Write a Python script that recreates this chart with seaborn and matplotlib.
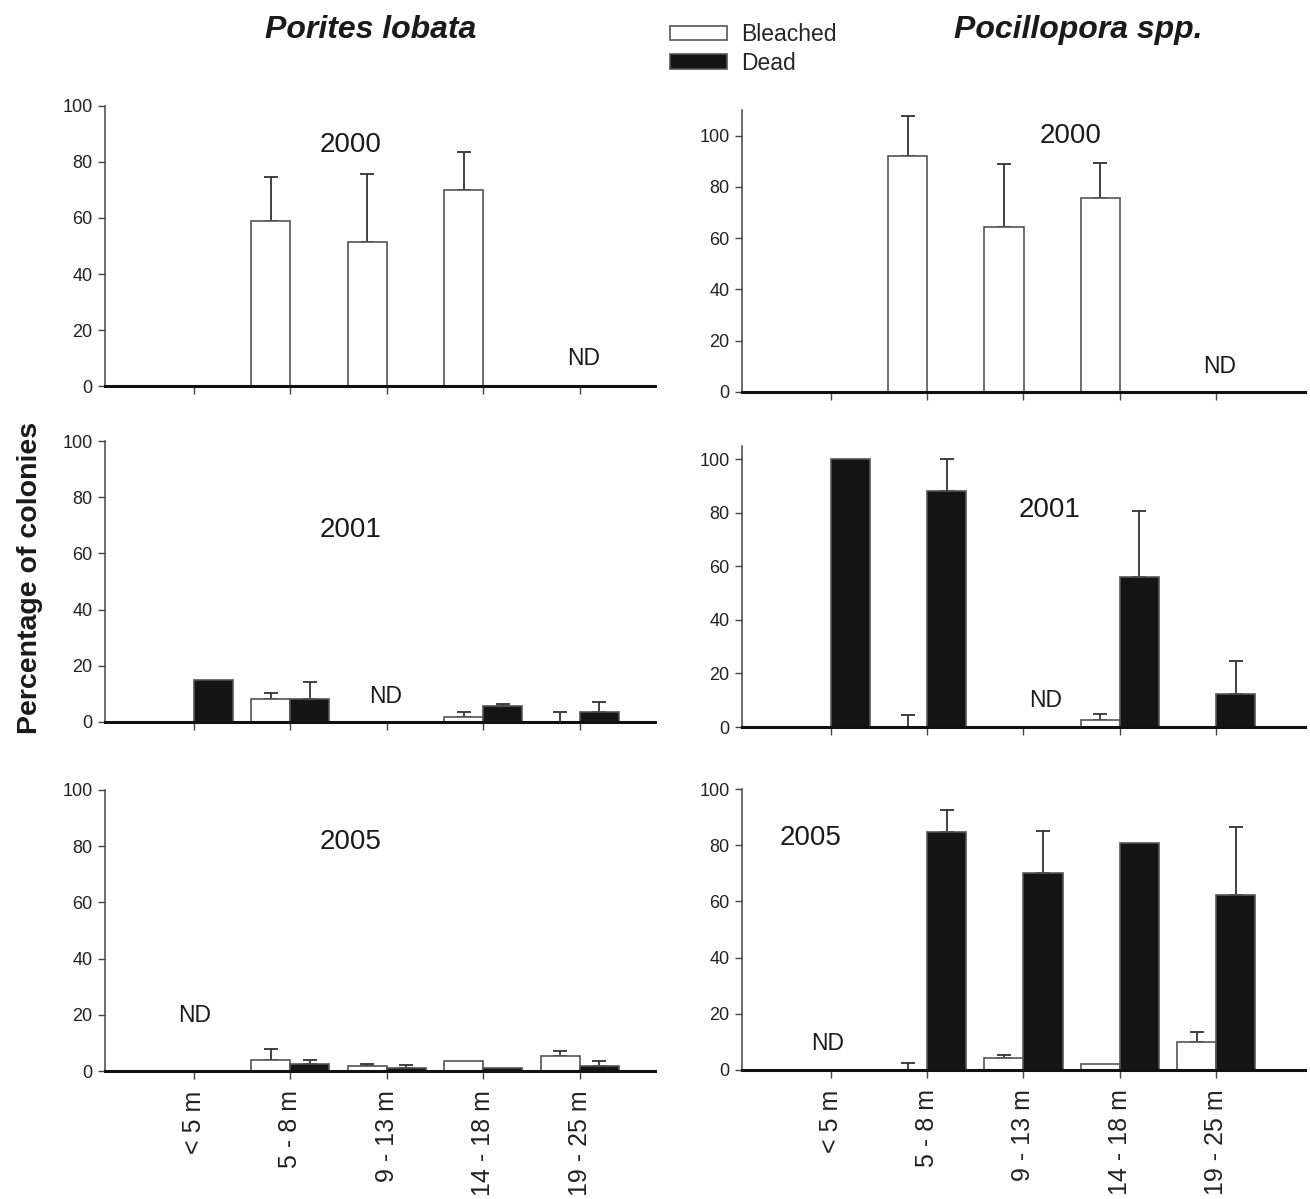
import numpy as np
import pandas as pd
import matplotlib
matplotlib.use("Agg")
import matplotlib.pyplot as plt
import seaborn as sns

# ---------------- data ----------------
depths = ["< 5 m", "5 - 8 m", "9 - 13 m", "14 - 18 m", "19 - 25 m"]
statuses = ["Bleached", "Dead"]
nan = np.nan

# Porites lobata
por_2000_bleached = [0, 59.1, 51.3, 70.1, 0]
por_2000_bleached_err = [nan, 15.4, 24.3, 13.5, nan]
por_2000_dead = [0, 0, 0, 0, 0]
por_2000_dead_err = [nan, nan, nan, nan, nan]

por_2001_bleached = [0, 8.2, 0, 1.9, 0]
por_2001_bleached_err = [nan, 2.0, nan, 1.6, 3.7]
por_2001_dead = [15.1, 8.2, 0, 5.8, 3.7]
por_2001_dead_err = [nan, 5.9, nan, 0.5, 3.5]

por_2005_bleached = [0, 3.9, 1.8, 3.7, 5.2]
por_2005_bleached_err = [nan, 4.0, 0.6, nan, 1.9]
por_2005_dead = [0, 2.6, 1.1, 1.2, 1.9]
por_2005_dead_err = [nan, 1.3, 0.9, nan, 1.6]

# Pocillopora spp.
poc_2000_bleached = [0, 92.0, 64.5, 75.7, 0]
poc_2000_bleached_err = [nan, 15.8, 24.3, 13.5, nan]
poc_2000_dead = [0, 0, 0, 0, 0]
poc_2000_dead_err = [nan, nan, nan, nan, nan]

poc_2001_bleached = [0, 0, 0, 2.7, 0]
poc_2001_bleached_err = [nan, 4.5, nan, 2.0, nan]
poc_2001_dead = [100, 88.1, 0, 56.1, 12.5]
poc_2001_dead_err = [nan, 11.9, nan, 24.5, 12.1]

poc_2005_bleached = [0, 0, 4.3, 2.0, 10.1]
poc_2005_bleached_err = [nan, 2.6, 1.1, nan, 3.5]
poc_2005_dead = [0, 84.6, 70.2, 80.7, 62.1]
poc_2005_dead_err = [nan, 8.1, 14.9, nan, 24.4]

years = ["2000", "2001", "2005"]
species = ["Porites lobata", "Pocillopora spp."]

panels = {
    (0, 0): (por_2000_bleached, por_2000_bleached_err, por_2000_dead, por_2000_dead_err),
    (1, 0): (por_2001_bleached, por_2001_bleached_err, por_2001_dead, por_2001_dead_err),
    (2, 0): (por_2005_bleached, por_2005_bleached_err, por_2005_dead, por_2005_dead_err),
    (0, 1): (poc_2000_bleached, poc_2000_bleached_err, poc_2000_dead, poc_2000_dead_err),
    (1, 1): (poc_2001_bleached, poc_2001_bleached_err, poc_2001_dead, poc_2001_dead_err),
    (2, 1): (poc_2005_bleached, poc_2005_bleached_err, poc_2005_dead, poc_2005_dead_err),
}

# text annotations (year label position, ND position) in data coords
year_pos = {(0, 0): (1.63, 86), (1, 0): (1.62, 68.3), (2, 0): (1.63, 81.5),
            (0, 1): (2.49, 100.0), (1, 1): (2.27, 81), (2, 1): (-0.21, 82.6)}
nd_pos = {(0, 0): (4.04, 10), (1, 0): (1.99, 8.9), (2, 0): (0.01, 19.6),
          (0, 1): (4.03, 9.8), (1, 1): (2.23, 10), (2, 1): (-0.03, 9.3)}
ylims = {(0, 0): 100, (1, 0): 100, (2, 0): 100, (0, 1): 110, (1, 1): 105, (2, 1): 100}

# ---------------- style ----------------
sns.set_style("ticks")
plt.rcParams["font.family"] = ["Liberation Sans", "DejaVu Sans"]

W, H = 1310, 1199
fig = plt.figure(figsize=(W / 100, H / 100), dpi=100)

def rect(left, bottom, right, top):
    return [left / W, 1 - bottom / H, (right - left) / W, (bottom - top) / H]

rects = {
    (0, 0): rect(105, 386, 655, 106),
    (1, 0): rect(105, 722, 655, 441),
    (2, 0): rect(105, 1071, 655, 790),
    (0, 1): rect(742, 392, 1305, 110),
    (1, 1): rect(742, 727, 1305, 446),
    (2, 1): rect(742, 1070, 1305, 789),
}
xlims = {0: (-0.92, 4.78), 1: (-0.92, 4.92)}

palette = {"Bleached": "white", "Dead": "#151515"}
legend_handles = None

for (r, c), (bl, ble, de, dee) in panels.items():
    ax = fig.add_axes(rects[(r, c)])
    df = pd.DataFrame({
        "depth": depths * 2,
        "status": ["Bleached"] * 5 + ["Dead"] * 5,
        "value": list(bl) + list(de),
    })
    errs = {"Bleached": ble, "Dead": dee}
    sns.barplot(data=df, x="depth", y="value", hue="status", order=depths,
                hue_order=statuses, palette=palette, edgecolor="#555555",
                linewidth=1.2, width=0.81, errorbar=None, ax=ax,
                legend=(r == 0 and c == 0), zorder=2)
    if r == 0 and c == 0:
        leg = ax.get_legend()
        legend_handles = leg.legend_handles
        leg.remove()
    # error bars (upper only), placed on the seaborn bar patches
    for p in ax.patches:
        cx = p.get_x() + p.get_width() / 2
        cat = int(round(cx))
        st = "Bleached" if cx < cat else "Dead"
        e = errs[st][cat]
        if not np.isnan(e):
            h = p.get_height()
            ax.errorbar([cx], [h], yerr=[[0], [e]], fmt="none",
                        ecolor="#333333", elinewidth=1.3, capsize=5,
                        capthick=1.3, zorder=1)
    ax.set_xlim(*xlims[c])
    ax.set_ylim(0, ylims[(r, c)])
    ax.set_yticks([0, 20, 40, 60, 80, 100])
    ax.set_xlabel("")
    ax.set_ylabel("")
    sns.despine(ax=ax)
    ax.spines["bottom"].set_linewidth(2.2)
    ax.spines["bottom"].set_color("#111111")
    ax.spines["left"].set_linewidth(1.1)
    ax.spines["left"].set_color("#444444")
    ax.tick_params(axis="y", labelsize=13, length=5, width=1.0,
                   color="#444444", labelcolor="#222222", pad=4)
    ax.tick_params(axis="x", length=6, width=1.0, color="#444444",
                   labelcolor="#222222", pad=8)
    if r == 2:
        ax.set_xticks(range(len(depths)))
        ax.set_xticklabels(depths, rotation=90, fontsize=18, va="top", ha="center")
    else:
        ax.set_xticks(range(len(depths)))
        ax.set_xticklabels([])
    yx, yy = year_pos[(r, c)]
    ax.text(yx, yy, years[r], fontsize=20, ha="center", va="center", color="#1a1a1a")
    nx, ny = nd_pos[(r, c)]
    ax.text(nx, ny, "ND", fontsize=16.5, ha="center", va="center", color="#1a1a1a")

# titles
fig.text(371 / W, 1 - 30 / H, species[0], fontsize=23, fontweight="bold",
         fontstyle="italic", ha="center", va="center", color="#1a1a1a")
fig.text(1078 / W, 1 - 30 / H, species[1], fontsize=23, fontweight="bold",
         fontstyle="italic", ha="center", va="center", color="#1a1a1a")
# y label
fig.text(30 / W, 1 - 578 / H, "Percentage of colonies", fontsize=20.5,
         fontweight="bold", rotation=90, ha="center", va="center", color="#1a1a1a")

# legend
fig.legend(handles=legend_handles, labels=statuses, loc="upper left",
           bbox_to_anchor=(670 / W, 1 - 23 / H), frameon=False, fontsize=16.5,
           handlelength=2.5, handleheight=0.6, handletextpad=0.6,
           labelspacing=0.25, borderpad=0, borderaxespad=0)

fig.savefig("out.png", dpi=100)
